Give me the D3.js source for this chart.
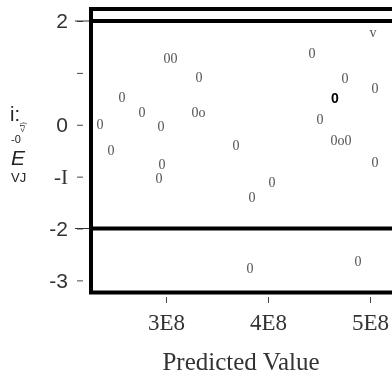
<!DOCTYPE html>
<html>
<head>
<meta charset="utf-8">
<script src="https://cdn.jsdelivr.net/npm/d3@7"></script>
<style>
  html, body { margin: 0; padding: 0; background: #fff; }
  svg { display: block; opacity: 0.999; will-change: transform; }
  text { -webkit-font-smoothing: antialiased; }
</style>
</head>
<body>
<svg id="chart" width="392" height="381"></svg>
<script>
// Predicted value of each observation (units of 1E8)
const predicted = [3.010, 3.078, 3.324, 2.569, 2.765, 3.284, 3.353, 2.353, 2.951, 2.461,
                   3.686, 2.961, 2.931, 4.039, 3.843, 4.431, 5.029, 4.755, 5.049, 4.657,
                   4.510, 4.647, 4.716, 4.784, 5.049, 3.824, 4.882];
// Residual of each observation
const residuals = [1.27, 1.27, 0.91, 0.52, 0.23, 0.23, 0.23, 0.00, -0.04, -0.50,
                   -0.40, -0.77, -1.04, -1.12, -1.40, 1.38, 1.77, 0.90, 0.69, 0.52,
                   0.10, -0.31, -0.31, -0.31, -0.73, -2.77, -2.63];
// Plotting symbol of each observation
const symbols = ["0", "0", "0", "0", "0", "0", "o", "0", "0", "0",
                 "0", "0", "0", "0", "0", "0", "v", "0", "0", "0",
                 "0", "0", "o", "0", "0", "0", "0"];
// Index of the highlighted observation
const highlighted = [19];

const xTicks = [3, 4, 5];
const xTickLabels = ["3E8", "4E8", "5E8"];
const yTicks = [2, 1, 0, -1, -2, -3];
const yTickLabels = ["2", "", "0", "-I", "-2", "-3"];
const referenceLines = [2, -2];

const svg = d3.select("#chart");
const W = 392;
const plot = { left: 91, top: 9, bottom: 292.5 };

const x = d3.scaleLinear().domain([2.265, 5.3]).range([plot.left, 400.6]);
const y = d3.scaleLinear().domain([2, -2]).range([21, 228.5]);

const sans = "'Liberation Sans', Arial, sans-serif";
const serif = "'Liberation Serif', 'Times New Roman', serif";

// Y axis: short ticks with labels to their left
const yAxis = d3.axisLeft(y)
  .tickValues(yTicks)
  .tickFormat((d, i) => yTickLabels[i])
  .tickSize(6)
  .tickPadding(9);
const gy = svg.append("g").attr("transform", "translate(83,0)").call(yAxis);
gy.select(".domain").remove();
gy.selectAll(".tick line").attr("stroke", "#444");
gy.selectAll(".tick text")
  .attr("fill", "#333")
  .attr("font-size", 21)
  .attr("font-family", d => yTickLabels[yTicks.indexOf(d)].includes("I") ? serif : sans);

// X axis below the frame
const xAxis = d3.axisBottom(x)
  .tickValues(xTicks)
  .tickFormat((d, i) => xTickLabels[i])
  .tickSize(6);
const gx = svg.append("g").attr("transform", "translate(0,297)").call(xAxis);
gx.select(".domain").remove();
gx.selectAll(".tick line").attr("stroke", "#444");
gx.selectAll(".tick text")
  .attr("y", 33).attr("dy", 0)
  .attr("fill", "#333")
  .attr("font-size", 23)
  .attr("font-family", serif);

// Reference lines at +/-2, with thin leaders out to the tick labels
svg.append("g").selectAll("line.lead").data(referenceLines).join("line")
  .attr("x1", 75).attr("x2", plot.left)
  .attr("y1", d => y(d)).attr("y2", d => y(d))
  .attr("stroke", "#333").attr("stroke-width", 1);
svg.append("g").selectAll("line.ref").data(referenceLines).join("line")
  .attr("x1", plot.left - 2).attr("x2", W)
  .attr("y1", d => y(d)).attr("y2", d => y(d))
  .attr("stroke", "#000").attr("stroke-width", 4);

// Frame (top, left, bottom)
const frame = svg.append("g").attr("stroke", "#000").attr("stroke-width", 4).attr("fill", "none");
frame.append("path")
  .attr("d", `M${W},${plot.top}H${plot.left}V${plot.bottom}H${W}`);

// Observations drawn as text symbols
const pts = predicted.map((p, i) => ({ p, r: residuals[i], s: symbols[i], hi: highlighted.includes(i) }));
svg.append("g").selectAll("text").data(pts).join("text")
  .attr("x", d => x(d.p))
  .attr("y", d => y(d.r))
  .attr("text-anchor", "middle")
  .attr("dominant-baseline", "central")
  .attr("font-family", d => d.hi ? sans : serif)
  .attr("font-weight", d => d.hi ? "bold" : "normal")
  .attr("font-size", 14)
  .attr("fill", d => d.hi ? "#000" : "#555")
  .text(d => d.s);

// Axis titles
svg.append("text")
  .attr("x", 241).attr("y", 370)
  .attr("text-anchor", "middle")
  .attr("font-family", serif)
  .attr("font-size", 25)
  .attr("fill", "#333")
  .text("Predicted Value");

const yt = svg.append("g").attr("fill", "#222").attr("font-family", sans);
yt.append("text").attr("x", 10).attr("y", 121).attr("font-size", 20).text("i:");
yt.append("text").attr("transform", "translate(25,132) rotate(-90)")
  .attr("font-size", 7).text("<J)");
yt.append("text").attr("x", 11).attr("y", 143).attr("font-size", 11).text("-0");
yt.append("text").attr("x", 11).attr("y", 165).attr("font-size", 21)
  .attr("font-style", "italic").text("E");
yt.append("text").attr("x", 11).attr("y", 182).attr("font-size", 13).text("VJ");
</script>
</body>
</html>
